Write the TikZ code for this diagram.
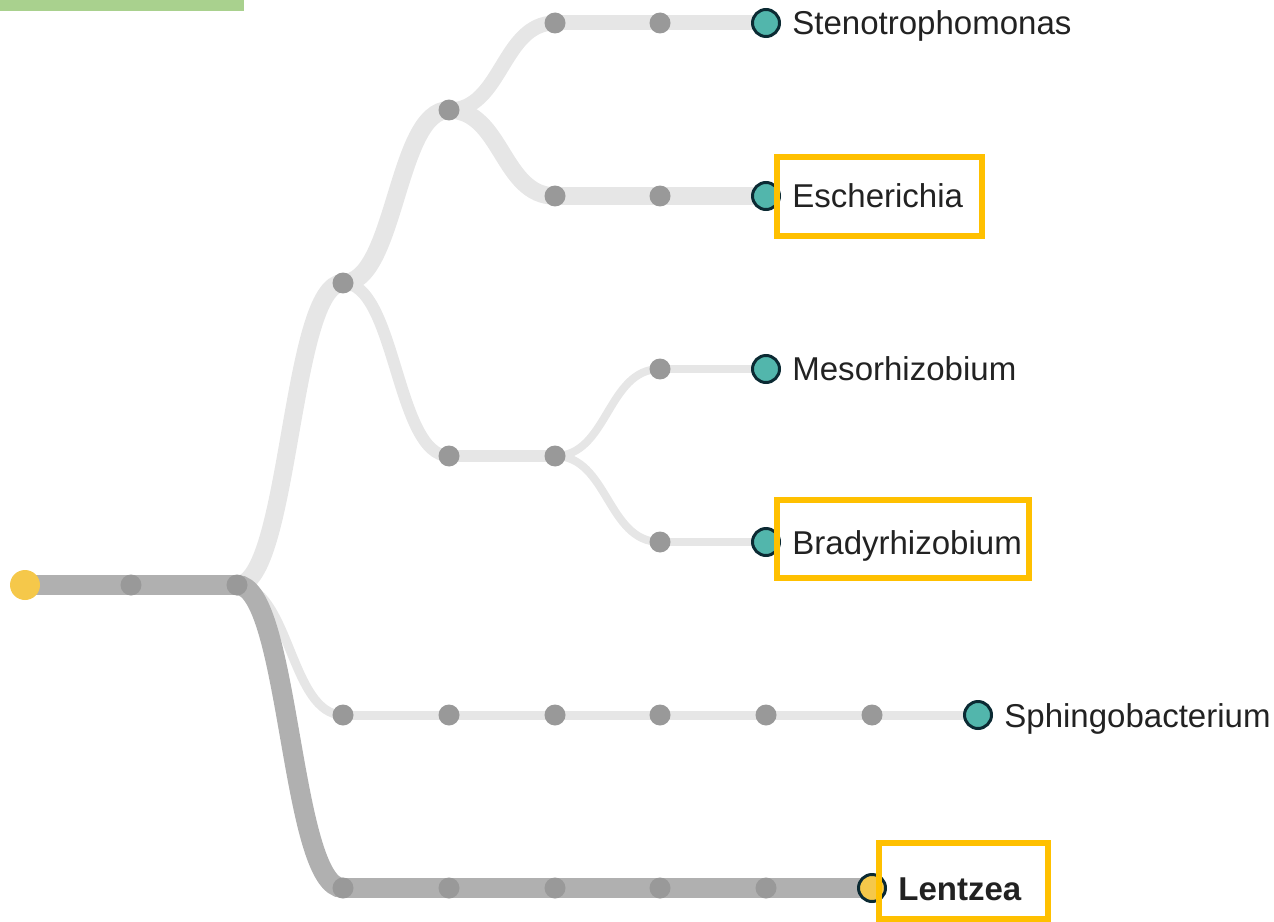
\documentclass[tikz,border=0pt]{standalone}
\usepackage{fontspec}
\setmainfont{Liberation Sans}
\usetikzlibrary{positioning}

\definecolor{linkdark}{HTML}{B0B0B0}
\definecolor{linklight}{HTML}{E6E6E6}
\definecolor{dotgray}{HTML}{999999}
\definecolor{leafteal}{HTML}{52B6AC}
\definecolor{leafrim}{HTML}{0B2A33}
\definecolor{rootyellow}{HTML}{F5C84A}
\definecolor{hiliteamber}{HTML}{FFC000}
\definecolor{bargreen}{HTML}{A9D18E}
\definecolor{labeltext}{HTML}{222222}

\pgfdeclarelayer{background}
\pgfsetlayers{background,main}

\begin{document}
\begin{tikzpicture}[
        x=0.02cm, y=-0.02cm,
        node distance=0.22cm,
        dot/.style={circle, fill=dotgray, inner sep=0pt, minimum size=0.42cm},
        rootdot/.style={circle, fill=rootyellow, inner sep=0pt, minimum size=0.6cm},
        leaf/.style={circle, fill=leafteal, draw=leafrim, line width=0.06cm, inner sep=0pt, minimum size=0.54cm},
        taxon/.style={inner sep=0pt, anchor=west, text height=0.48cm, text depth=0pt, text=labeltext,
            font=\fontsize{18.8pt}{22pt}\selectfont},
        light/.style={draw=linklight, line width=#1},
        dark/.style={draw=linkdark, line width=0.4cm},
        hilite/.style={draw=hiliteamber, line width=0.12cm}
    ]
    \useasboundingbox (0,0) rectangle (1274,922);
    \fill[bargreen] (0,0) rectangle (244,11);

    % spine and inner nodes
    \node[rootdot] (root) at (25,585) {};
    \node[dot] (i1) at (131,585) {};
    \node[dot] (i2) at (237,585) {};
    \node[dot] (i3) at (343,283) {};
    \node[dot] (i4) at (449,110) {};
    \node[dot] (i5) at (449,456) {};
    \node[dot] (i6) at (555,456) {};

    % Stenotrophomonas
    \node[dot] (st1) at (555,23) {};
    \node[dot] (st2) at (660,23) {};
    \node[leaf] (lSt) at (766,23) {};
    \node[taxon, right=of lSt] (tSt) {Stenotrophomonas};

    % Escherichia
    \node[dot] (es1) at (555,196) {};
    \node[dot] (es2) at (660,196) {};
    \node[leaf] (lEs) at (766,196) {};
    \node[taxon, right=of lEs] (tEs) {Escherichia};

    % Mesorhizobium / Bradyrhizobium
    \node[dot] (me1) at (660,369) {};
    \node[leaf] (lMe) at (766,369) {};
    \node[taxon, right=of lMe] (tMe) {Mesorhizobium};
    \node[dot] (br1) at (660,542) {};
    \node[leaf] (lBr) at (766,542) {};
    \node[taxon, right=of lBr] (tBr) {Bradyrhizobium};

    % Sphingobacterium
    \node[dot] (sp1) at (343,715) {};
    \node[dot] (sp2) at (449,715) {};
    \node[dot] (sp3) at (555,715) {};
    \node[dot] (sp4) at (660,715) {};
    \node[dot] (sp5) at (766,715) {};
    \node[dot] (sp6) at (872,715) {};
    \node[leaf] (lSp) at (978,715) {};
    \node[taxon, right=of lSp] (tSp) {Sphingobacterium};

    % Lentzea
    \node[dot] (le1) at (343,888) {};
    \node[dot] (le2) at (449,888) {};
    \node[dot] (le3) at (555,888) {};
    \node[dot] (le4) at (660,888) {};
    \node[dot] (le5) at (766,888) {};
    \node[leaf, fill=rootyellow] (lLe) at (872,888) {};
    \node[taxon, right=of lLe, font=\fontsize{18.8pt}{22pt}\selectfont\bfseries] (tLe) {Lentzea};

    \begin{pgfonlayer}{background}
    \draw[light=0.36cm] (i2.center) .. controls +(53,0) and +(-53,0) .. (i3.center);
    \draw[light=0.36cm] (i3.center) .. controls +(53,0) and +(-53,0) .. (i4.center);
    \draw[light=0.3cm] (i4.center) .. controls +(53,0) and +(-53,0) .. (st1.center);
    \draw[light=0.3cm] (st1.center) -- (st2.center) -- (lSt.center);
    \draw[light=0.35cm] (i4.center) .. controls +(53,0) and +(-53,0) .. (es1.center);
    \draw[light=0.35cm] (es1.center) -- (es2.center) -- (lEs.center);
    \draw[light=0.24cm] (i3.center) .. controls +(53,0) and +(-53,0) .. (i5.center);
    \draw[light=0.24cm] (i5.center) -- (i6.center);
    \draw[light=0.16cm] (i6.center) .. controls +(53,0) and +(-53,0) .. (me1.center);
    \draw[light=0.16cm] (me1.center) -- (lMe.center);
    \draw[light=0.16cm] (i6.center) .. controls +(53,0) and +(-53,0) .. (br1.center);
    \draw[light=0.16cm] (br1.center) -- (lBr.center);
    \draw[light=0.18cm] (i2.center) .. controls +(53,0) and +(-53,0) .. (sp1.center);
    \draw[light=0.18cm] (sp1.center) -- (sp2.center) -- (sp3.center) -- (sp4.center)
        -- (sp5.center) -- (sp6.center) -- (lSp.center);
    \draw[dark] (root.center) -- (i1.center) -- (i2.center);
    \draw[dark] (i2.center) .. controls +(53,0) and +(-53,0) .. (le1.center);
    \draw[dark] (le1.center) -- (le2.center) -- (le3.center) -- (le4.center)
        -- (le5.center) -- (lLe.center);
    \end{pgfonlayer}

    % highlight frames
    \draw[hilite] (777,157) rectangle (982,236);
    \draw[hilite] (777,500) rectangle (1029,578);
    \draw[hilite] (879,843) rectangle (1048,919);
\end{tikzpicture}
\end{document}
